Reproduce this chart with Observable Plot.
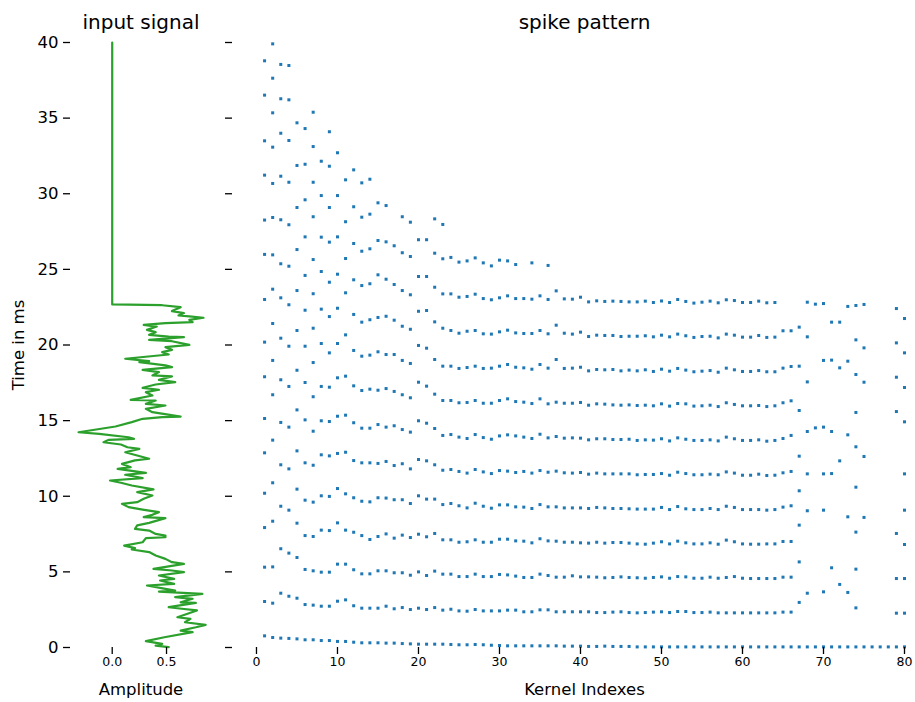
<!DOCTYPE html>
<html>
<head>
<meta charset="utf-8">
<script src="https://cdn.jsdelivr.net/npm/d3@7"></script>
<script src="https://cdn.jsdelivr.net/npm/@observablehq/plot@0.6"></script>
<style>
  html, body { margin: 0; padding: 0; background: #fff; overflow: hidden; }
  #chart { position: relative; width: 915px; height: 702px; overflow: hidden; background: #fff; }
  #chart svg { position: absolute; top: 0; }
</style>
</head>
<body>
<div id="chart"></div>
<script>
// ---------------- DATA ----------------
// Tick labels
const timeTicks = [0, 5, 10, 15, 20, 25, 30, 35, 40];
const ampTicks = [0.0, 0.5];
const kernelTicks = [0, 10, 20, 30, 40, 50, 60, 70, 80];

// Input signal (time in ms, amplitude)
const signalTime = [0.02, 0.13, 0.24, 0.42, 0.68, 1.02, 1.12, 1.34, 1.50, 1.67, 1.89, 2.00, 2.45, 2.56, 2.67, 2.95, 2.99, 3.22, 3.33, 3.55, 3.70, 3.77, 3.88, 4.10, 4.21, 4.43, 4.54, 4.76, 4.98, 5.09, 5.20, 5.53, 5.64, 5.86, 6.08, 6.31, 6.48, 6.57, 6.74, 6.96, 7.23, 7.29, 7.40, 7.51, 7.73, 7.84, 8.07, 8.24, 8.55, 8.62, 8.77, 8.95, 9.12, 9.28, 9.50, 9.61, 9.83, 10.05, 10.27, 10.45, 10.71, 10.89, 11.04, 11.20, 11.42, 11.55, 11.81, 11.92, 12.14, 12.37, 12.48, 12.91, 13.13, 13.24, 13.42, 13.57, 13.73, 13.79, 13.90, 14.12, 14.23, 14.61, 14.90, 15.12, 15.23, 15.27, 15.56, 15.78, 16.00, 16.11, 16.33, 16.37, 16.66, 16.88, 17.04, 17.17, 17.39, 17.55, 17.70, 17.92, 17.99, 18.21, 18.36, 18.54, 18.65, 18.87, 18.93, 19.09, 19.37, 19.53, 19.68, 19.86, 20.01, 20.25, 20.34, 20.52, 20.56, 20.67, 20.85, 21.00, 21.22, 21.33, 21.44, 21.51, 21.66, 21.80, 21.89, 21.95, 22.11, 22.24, 22.50, 22.63, 22.68, 40.00];
const signalAmp = [0.52, 0.40, 0.46, 0.31, 0.48, 0.74, 0.63, 0.77, 0.86, 0.67, 0.72, 0.60, 0.78, 0.64, 0.52, 0.77, 0.63, 0.74, 0.58, 0.83, 0.43, 0.58, 0.49, 0.32, 0.57, 0.44, 0.57, 0.43, 0.66, 0.55, 0.38, 0.66, 0.55, 0.49, 0.40, 0.34, 0.18, 0.21, 0.11, 0.28, 0.31, 0.49, 0.49, 0.40, 0.34, 0.21, 0.23, 0.34, 0.49, 0.29, 0.37, 0.43, 0.28, 0.15, 0.09, 0.23, 0.29, 0.37, 0.23, 0.38, 0.18, 0.08, -0.02, 0.28, 0.12, 0.31, 0.05, 0.17, 0.09, 0.21, 0.34, 0.12, 0.25, 0.14, 0.08, -0.08, -0.03, 0.20, 0.15, -0.12, -0.31, 0.03, 0.18, 0.28, 0.46, 0.63, 0.37, 0.31, 0.49, 0.31, 0.40, 0.17, 0.37, 0.31, 0.43, 0.28, 0.40, 0.58, 0.43, 0.55, 0.37, 0.43, 0.28, 0.55, 0.49, 0.25, 0.34, 0.12, 0.52, 0.46, 0.55, 0.49, 0.71, 0.55, 0.34, 0.66, 0.52, 0.34, 0.40, 0.32, 0.41, 0.29, 0.49, 0.74, 0.71, 0.84, 0.71, 0.61, 0.66, 0.55, 0.63, 0.46, 0.00, 0.00];

// Spike times (ms) of kernels 1..22, one list per kernel
const lowKernelSpikes = [
  [38.79, 36.52, 33.50, 31.23, 28.26, 25.99, 23.01, 20.19, 17.90, 15.14, 12.87, 10.20, 7.93, 5.31, 3.04, 0.77],
  [39.91, 37.64, 35.35, 33.08, 30.68, 28.43, 25.96, 23.69, 21.42, 18.98, 16.71, 13.71, 10.89, 8.35, 5.33, 2.93, 0.66],
  [38.55, 36.28, 34.00, 31.16, 28.28, 25.37, 23.12, 20.45, 17.70, 14.88, 12.08, 9.34, 6.53, 3.59, 0.62],
  [38.48, 36.21, 33.52, 30.76, 27.95, 25.21, 22.66, 19.92, 17.26, 14.57, 11.81, 9.08, 6.24, 3.39, 0.60],
  [34.69, 31.87, 29.09, 26.31, 23.60, 20.96, 18.33, 15.71, 13.00, 10.47, 8.22, 5.95, 3.26, 0.57],
  [34.31, 31.95, 29.60, 27.15, 24.60, 22.30, 19.92, 17.52, 15.05, 12.21, 9.74, 7.40, 5.16, 2.84, 0.51],
  [35.39, 33.12, 30.76, 28.48, 25.65, 23.39, 21.11, 18.84, 16.58, 14.30, 12.05, 9.61, 7.34, 5.07, 2.80, 0.51],
  [32.15, 29.88, 27.13, 24.86, 22.37, 20.10, 17.26, 14.99, 12.74, 10.03, 7.76, 4.98, 2.73, 0.46],
  [34.10, 31.82, 29.09, 26.80, 24.15, 21.88, 19.48, 17.21, 14.94, 12.67, 9.99, 7.73, 4.98, 2.73, 0.46],
  [32.71, 29.88, 27.15, 24.68, 22.43, 20.10, 17.83, 15.29, 12.83, 10.51, 8.24, 5.51, 3.06, 0.40],
  [30.92, 28.15, 25.72, 23.45, 20.67, 17.94, 15.36, 12.91, 10.16, 7.76, 5.51, 3.15, 0.40],
  [31.58, 29.14, 26.71, 24.31, 22.02, 19.64, 17.30, 14.86, 12.36, 9.90, 7.62, 5.14, 2.76, 0.35],
  [30.72, 28.45, 26.20, 23.93, 21.51, 19.26, 16.99, 14.50, 12.21, 9.67, 7.40, 4.87, 2.60, 0.31],
  [30.96, 28.65, 26.36, 24.05, 21.67, 19.33, 17.08, 14.50, 12.21, 9.63, 7.14, 4.87, 2.60, 0.31],
  [29.40, 26.91, 24.64, 21.82, 19.55, 17.01, 14.74, 12.17, 9.90, 7.34, 5.07, 2.60, 0.31],
  [29.22, 26.82, 24.35, 21.90, 19.37, 17.12, 14.57, 12.30, 9.88, 7.51, 5.07, 2.73, 0.29],
  [26.56, 24.00, 21.64, 19.37, 16.93, 14.66, 12.03, 9.77, 7.23, 4.94, 2.56, 0.29],
  [28.48, 26.10, 23.60, 21.24, 18.98, 16.71, 14.41, 12.15, 9.77, 7.43, 4.94, 2.64, 0.26],
  [28.12, 25.85, 23.32, 21.04, 18.78, 16.51, 14.24, 11.81, 9.52, 7.27, 4.78, 2.51, 0.24],
  [26.96, 24.53, 22.23, 19.97, 17.54, 14.99, 12.43, 10.03, 7.49, 5.00, 2.60, 0.22],
  [26.96, 24.53, 22.28, 19.79, 17.28, 14.83, 12.34, 9.81, 7.32, 4.76, 2.51, 0.22],
  [28.34, 26.07, 23.82, 21.53, 19.04, 16.75, 14.48, 12.08, 9.81, 7.54, 5.05, 2.64, 0.22]
];

// Spike waves of kernels 23..66 (one value per kernel, null = no spike)
const waveTop = [27.97];
const wave11 = [25.70, 25.79, 25.48, 25.56, 25.76, 25.43, 25.23, 25.61, 25.56, 25.32, null, 25.43, null, 25.26];
const wave10 = [23.38, 23.38, 23.16, 23.21, 23.36, 23.07, 22.99, 23.12, 23.25, 23.07, 23.07,
  23.03, 23.25, 23.01, 23.58, 23.05, 23.03, 23.16, 22.85, 22.92, 22.88, 22.90,
  22.88, 22.85, 22.85, 22.90, 22.81, 22.91, 22.81, 23.01, 22.88, 22.77, 22.83,
  22.90, 22.79, 22.99, 22.94, 22.81, 22.81, 22.90, 22.79, 22.81, null, null];
const wave9 = [21.11, 20.96, 20.78, 20.91, 20.96, 20.74, 20.72, 20.87, 20.98, 20.80, 20.76,
  20.76, 20.96, 20.74, 21.31, 20.78, 20.72, 20.85, 20.56, 20.65, 20.63, 20.63,
  20.56, 20.58, 20.58, 20.61, 20.54, 20.65, 20.54, 20.72, 20.61, 20.50, 20.56,
  20.58, 20.47, 20.72, 20.65, 20.52, 20.52, 20.63, 20.50, 20.52, 20.94, 20.94];
const wave8 = [18.60, 18.60, 18.45, 18.51, 18.60, 18.45, 18.47, 18.60, 18.71, 18.53, 18.49,
  18.40, 18.71, 18.47, 19.04, 18.45, 18.47, 18.53, 18.29, 18.38, 18.36, 18.38,
  18.29, 18.34, 18.29, 18.36, 18.25, 18.40, 18.27, 18.45, 18.34, 18.23, 18.27,
  18.31, 18.20, 18.47, 18.36, 18.25, 18.25, 18.31, 18.23, 18.23, 18.47, 18.58];
const wave7 = [16.33, 16.33, 16.18, 16.20, 16.33, 16.15, 16.15, 16.33, 16.44, 16.26, 16.22,
  16.13, 16.44, 16.11, 16.22, 16.15, 16.15, 16.20, 16.02, 16.11, 16.09, 16.04,
  16.02, 16.04, 16.00, 16.02, 15.98, 16.11, 15.96, 16.13, 16.11, 15.96, 15.98,
  16.02, 15.93, 16.18, 16.07, 15.98, 15.98, 16.00, 15.93, 15.98, 16.18, 16.31];
const wave6 = [14.02, 14.08, 13.91, 13.82, 14.08, 13.88, 13.77, 13.99, 14.06, 13.99, 13.91,
  13.82, 14.10, 13.86, 13.95, 13.84, 13.86, 13.84, 13.73, 13.80, 13.80, 13.75,
  13.75, 13.77, 13.69, 13.73, 13.71, 13.80, 13.66, 13.86, 13.77, 13.69, 13.69,
  13.73, 13.66, 13.91, 13.80, 13.69, 13.69, 13.73, 13.64, 13.69, 13.82, 14.02];
const wave5 = [11.72, 11.77, 11.64, 11.53, 11.77, 11.61, 11.50, 11.70, 11.66, 11.57, 11.64,
  11.53, 11.70, 11.59, 11.66, 11.55, 11.53, 11.57, 11.46, 11.53, 11.48, 11.48,
  11.48, 11.48, 11.42, 11.44, 11.44, 11.50, 11.39, 11.59, 11.50, 11.42, 11.42,
  11.46, 11.42, 11.61, 11.53, 11.39, 11.39, 11.46, 11.37, 11.39, 11.55, 11.64];
const wave4 = [9.45, 9.52, 9.37, 9.23, 9.54, 9.34, 9.21, 9.43, 9.43, 9.30, 9.28,
  9.19, 9.45, 9.30, 9.30, 9.23, 9.23, 9.23, 9.19, 9.26, 9.23, 9.19,
  9.19, 9.17, 9.15, 9.15, 9.15, 9.26, 9.12, 9.32, 9.17, 9.12, 9.12,
  9.19, 9.12, 9.34, 9.26, 9.12, 9.12, 9.12, 9.08, 9.12, 9.28, 9.37];
const wave3 = [7.12, 7.12, 6.96, 6.99, 7.12, 6.96, 6.96, 7.16, 7.16, 7.05, 7.03,
  6.92, 7.19, 7.05, 7.03, 6.96, 6.96, 6.92, 6.90, 6.96, 6.90, 6.94,
  6.94, 6.90, 6.85, 6.83, 6.90, 6.99, 6.85, 7.03, 6.92, 6.85, 6.85,
  6.92, 6.83, 7.10, 6.99, 6.85, 6.83, 6.83, 6.85, 6.85, 7.01, 7.01];
const wave2 = [4.85, 4.85, 4.69, 4.69, 4.85, 4.69, 4.69, 4.83, 4.80, 4.72, 4.63,
  4.63, 4.85, 4.76, 4.65, 4.65, 4.74, 4.67, 4.67, 4.65, 4.61, 4.63,
  4.67, 4.63, 4.61, 4.58, 4.63, 4.67, 4.58, 4.69, 4.67, 4.58, 4.58,
  4.65, 4.58, 4.63, 4.69, 4.58, 4.56, 4.56, 4.56, 4.56, 4.65, 4.65];
const wave1 = [2.47, 2.53, 2.42, 2.40, 2.51, 2.42, 2.42, 2.42, 2.47, 2.47, 2.36,
  2.36, 2.49, 2.49, 2.36, 2.36, 2.36, 2.36, 2.36, 2.31, 2.31, 2.34,
  2.36, 2.31, 2.29, 2.31, 2.34, 2.36, 2.31, 2.38, 2.38, 2.31, 2.31,
  2.34, 2.29, 2.29, 2.29, 2.29, 2.29, 2.29, 2.29, 2.29, 2.34, 2.34];
// First spike of kernels 23..80
const wave0 = [0.22, 0.20, 0.18, 0.18, 0.20, 0.18, 0.15, 0.13, 0.11, 0.11, 0.11,
  0.11, 0.11, 0.11, 0.11, 0.09, 0.09, 0.09, 0.07, 0.07, 0.09, 0.07,
  0.07, 0.07, 0.04, 0.04, 0.04, 0.04, 0.04, 0.04, 0.04, 0.04, 0.04,
  0.04, 0.04, 0.04, 0.04, 0.04, 0.04, 0.04, 0.04, 0.04, 0.04, 0.04,
  0.04, 0.04, 0.04, 0.04, 0.04, 0.04, 0.04, 0.04, 0.04, 0.04, 0.04,
  0.04, 0.04, 0.04];

// Later spike times (ms) of kernels 67..80, one list per kernel
const highKernelSpikes = [
  [21.18, 18.60, 15.67, 12.65, 10.36, 8.09, 5.66, 2.98],
  [22.83, 20.54, 17.56, 14.28, 11.48, 9.04, 3.59],
  [22.70, 14.52],
  [22.74, 18.98, 14.57, 11.48, 9.08, 3.68],
  [21.51, 19.00, 14.28, 11.50, 5.27],
  [21.51, 18.49, 12.34, 4.17],
  [22.55, 18.93, 14.06, 8.64, 3.64],
  [22.61, 20.34, 18.05, 15.54, 13.27, 10.60, 7.63, 5.18, 2.62],
  [22.68, 19.81, 17.54, 12.63, 8.60],
  [],
  [],
  [],
  [22.41, 20.14, 17.87, 15.60, 7.54, 4.56, 2.27],
  [21.75, 19.48, 17.19, 14.92, 11.48, 9.08, 6.81, 4.56, 2.27]
];

// ---------------- BUILD TABLES ----------------
const signal = signalTime.map((t, i) => ({t, amp: signalAmp[i]}));

const spikes = [];
lowKernelSpikes.forEach((ts, i) => ts.forEach(t => spikes.push({kernel: i + 1, t})));
[waveTop, wave11, wave10, wave9, wave8, wave7, wave6, wave5, wave4, wave3, wave2, wave1, wave0]
  .forEach(w => w.forEach((t, i) => { if (t != null) spikes.push({kernel: 23 + i, t}); }));
highKernelSpikes.forEach((ts, i) => ts.forEach(t => spikes.push({kernel: 67 + i, t})));

// ---------------- DRAW ----------------
const font = "DejaVu Sans, Verdana, sans-serif";
const H = 702, MT = 42, MB = 55;
const blue = "#1f77b4", green = "#2ca02c";
const titleSize = 20, labelSize = 16.5, yTickSize = 16.5, xTickSize = 12.5;

const left = Plot.plot({
  width: 215, height: H,
  marginLeft: 70, marginRight: 4, marginTop: MT, marginBottom: MB,
  style: {fontFamily: font, background: "transparent", maxWidth: "none", overflow: "visible", left: "0px", color: "#000"},
  x: {domain: [-0.384, 0.914]},
  y: {domain: [0, 40]},
  marks: [
    Plot.line(signal, {x: "amp", y: "t", stroke: green, strokeWidth: 2.2, strokeLinejoin: "round", curve: "linear"}),
    Plot.axisY({ticks: timeTicks, tickSize: 7, tickPadding: 5, fontSize: yTickSize, label: null, strokeWidth: 1.3, tickFormat: d => String(d)}),
    Plot.axisX({ticks: ampTicks, tickSize: 7, tickPadding: 3, fontSize: xTickSize, label: null, strokeWidth: 1.3, tickFormat: d3.format(".1f")}),
    Plot.text(["input signal"], {text: d => d, frameAnchor: "top", lineAnchor: "middle", dy: -20, fontSize: titleSize}),
    Plot.text(["Amplitude"], {text: d => d, frameAnchor: "bottom", lineAnchor: "middle", dy: 42, fontSize: labelSize}),
    Plot.text(["Time in ms"], {text: d => d, frameAnchor: "left", textAnchor: "middle", lineAnchor: "middle", dx: -52, rotate: -90, fontSize: labelSize})
  ]
});

const right = Plot.plot({
  width: 721, height: H,
  marginLeft: 17, marginRight: 0, marginTop: MT, marginBottom: MB,
  style: {fontFamily: font, background: "transparent", maxWidth: "none", overflow: "visible", left: "215px", color: "#000"},
  x: {domain: [-2.96, 83.95]},
  y: {domain: [0, 40]},
  marks: [
    Plot.dot(spikes, {x: "kernel", y: "t", symbol: "square", r: 1.7, fill: blue, stroke: "none"}),
    Plot.axisY({ticks: timeTicks, tickSize: 7, tickPadding: 5, fontSize: yTickSize, label: null, strokeWidth: 1.3, tickFormat: () => ""}),
    Plot.axisX({ticks: kernelTicks, tickSize: 7, tickPadding: 3, fontSize: xTickSize, label: null, strokeWidth: 1.3, tickFormat: d => String(d)}),
    Plot.text(["spike pattern"], {text: d => d, frameAnchor: "top", lineAnchor: "middle", dy: -20, fontSize: titleSize}),
    Plot.text(["Kernel Indexes"], {text: d => d, frameAnchor: "bottom", lineAnchor: "middle", dy: 42, fontSize: labelSize})
  ]
});

const chart = document.getElementById("chart");
chart.appendChild(left);
chart.appendChild(right);
</script>
</body>
</html>
